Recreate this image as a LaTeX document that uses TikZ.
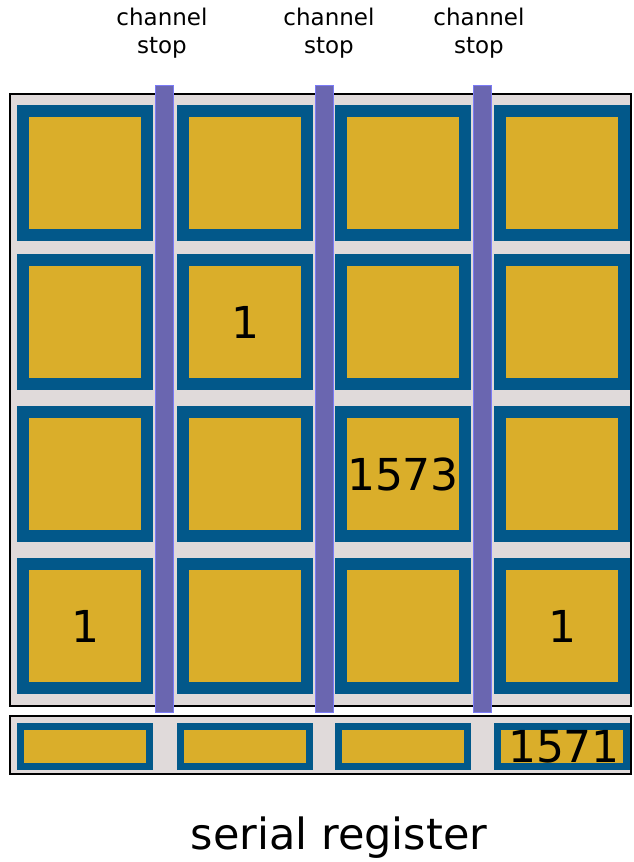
\documentclass[tikz,border=0pt]{standalone}
\usepackage{fontspec}
\setmainfont{DejaVu Sans}
\usetikzlibrary{calc}
\definecolor{pixblue}{HTML}{02588A}
\definecolor{pixgold}{HTML}{DAAE2A}
\definecolor{substrate}{HTML}{E0DADA}
\definecolor{stopfill}{HTML}{6A66B0}
\definecolor{stopedge}{HTML}{7B7BF5}
\tikzset{
  bignum/.style={font=\fontsize{44}{50}\selectfont,inner sep=0pt},
  stoplabel/.style={font=\fontsize{23}{28}\selectfont,align=center,inner sep=0pt}
}

\begin{document}
\begin{tikzpicture}[x=1pt,y=-1pt]
\useasboundingbox (0,0) rectangle (633,862);
\fill[substrate] (10,94) rectangle (631,706);
\foreach \x in {17,177,335,494}{
  \foreach \y in {105,254,406,558}{
    \fill[pixblue] (\x,\y) rectangle +(136,136);
    \fill[pixgold] (\x+12,\y+12) rectangle +(112,112);
  }
}
\draw[line width=2.8pt] (10,94) rectangle (631,706);
\fill[substrate] (10,716) rectangle (631,774);
\foreach \x in {17,177,335,494}{
  \fill[pixblue] (\x,723) rectangle +(136,47);
  \fill[pixgold] (\x+7,730) rectangle +(122,33);
}
\draw[line width=2.8pt] (10,716) rectangle (631,774);
\foreach \x/\lx/\name in {164/162/stopA,324/329/stopB,482/479/stopC}{
  \draw[stopedge,fill=stopfill,line width=1pt] (\x-9,85) rectangle (\x+9,712);
  \node[stoplabel] (\name) at (\lx,33) {channel\\stop};
}
\node[bignum] (pixB2) at (245,322) {1};
\node[bignum] (pixC3) at (403,474) {1573};
\node[bignum] (pixA4) at (85,626) {1};
\node[bignum] (pixD4) at (562,626) {1};
\node[bignum] (regD) at (564,747) {1571};
\node[font=\fontsize{43}{50}\selectfont] (serial) at (339,838) {serial register};
\end{tikzpicture}
\end{document}
